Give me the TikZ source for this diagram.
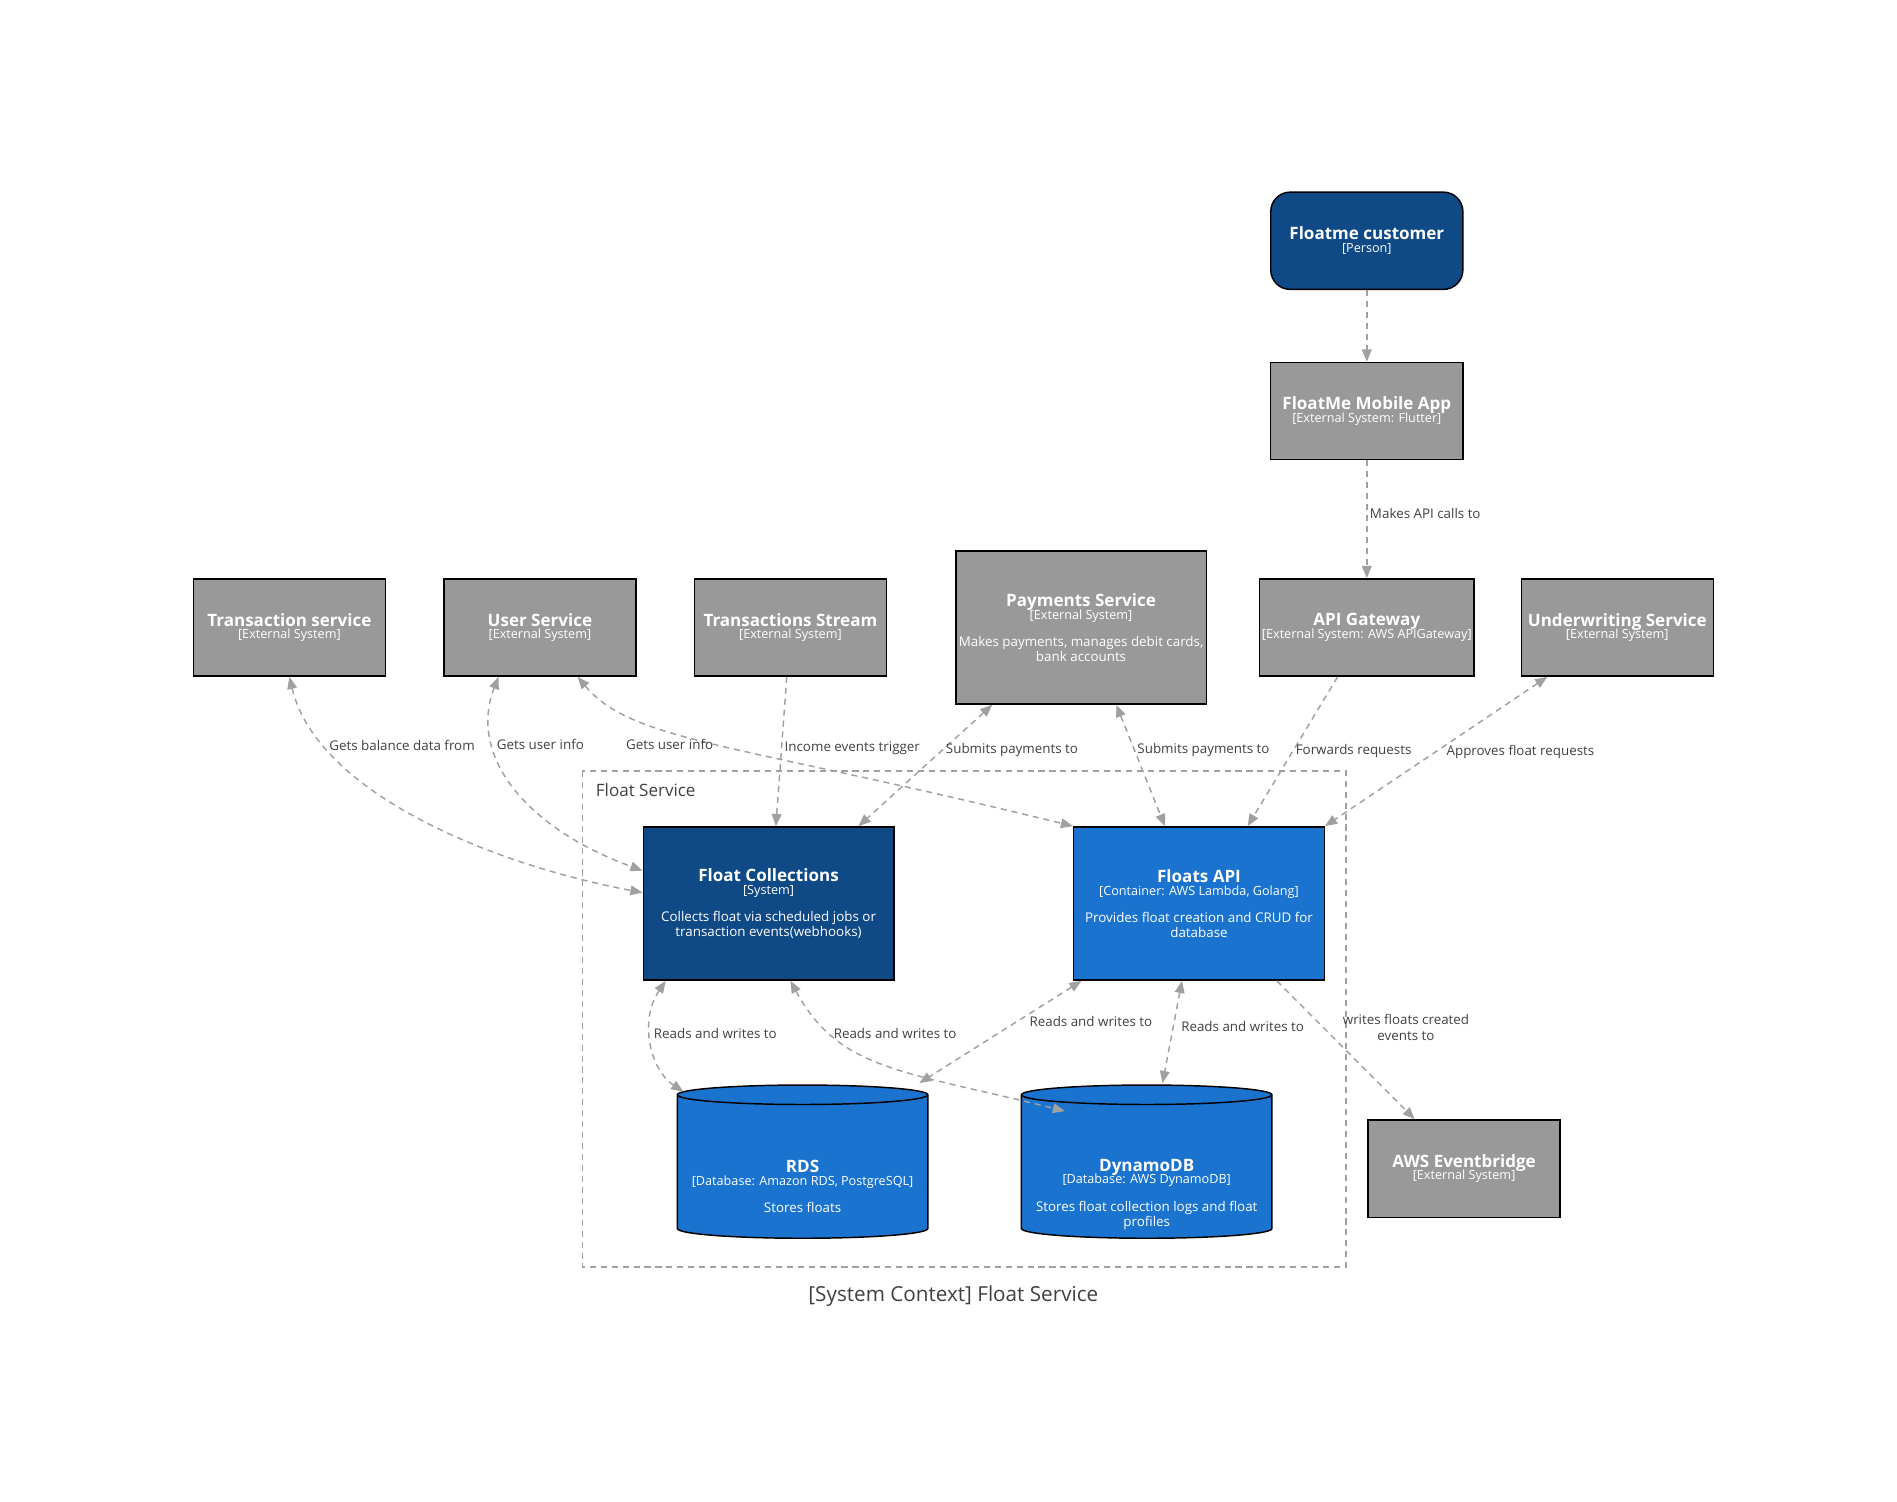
\documentclass[tikz,border=0pt]{standalone}
\usepackage{fontspec}
\setmainfont{Open Sans}
\usetikzlibrary{arrows.meta,shapes.geometric,calc}
\definecolor{personblue}{HTML}{0F4A87}
\definecolor{contblue}{HTML}{1A74CF}
\definecolor{extgrey}{HTML}{999999}
\definecolor{linegrey}{HTML}{A0A0A0}
\definecolor{labgrey}{HTML}{404040}
\newcommand{\ttl}[1]{{\fontsize{7}{8}\selectfont\bfseries #1}}
\newcommand{\stp}[1]{{\fontsize{5.2}{6}\selectfont #1}}
\tikzset{
  box/.style={draw=black,line width=0.6pt,text=white,align=center,minimum width=79pt,minimum height=40pt,inner sep=1pt,font=\fontsize{5.5}{6.2}\selectfont},
  ext/.style={box,fill=extgrey},
  wide/.style={minimum width=103pt,minimum height=63pt},
  dbnode/.style={cylinder,shape border rotate=90,aspect=1.2,draw=black,line width=0.6pt,fill=contblue,minimum width=103pt,minimum height=63pt},
  rel/.style={draw=linegrey,line width=0.6pt,dash pattern=on 2.5pt off 2pt,-{Triangle[length=5pt,width=4pt]}},
  relb/.style={rel,{Triangle[length=5pt,width=4pt]}-{Triangle[length=5pt,width=4pt]}},
  lab/.style={text=labgrey,font=\fontsize{5.5}{6.5}\selectfont,align=center,inner sep=1pt}
}
\begin{document}
\begin{tikzpicture}[x=0.5pt,y=0.5pt,yscale=-1]
\useasboundingbox (0,0) rectangle (1560,1235);

% boundary
\draw [draw=linegrey,line width=0.6pt,dash pattern=on 2.5pt off 2pt] (479,634) rectangle (1107,1042);
\node (bnd) [anchor=north west,text=labgrey,font=\fontsize{7}{8}\selectfont] at (483,637) {Float Service};

% people and external systems
\node (cust) [box,fill=personblue,rounded corners=8pt] at (1124,198) {\ttl{Floatme customer}\\[-1pt]\stp{[Person]}};
\node (app) [ext] at (1124,338) {\ttl{FloatMe Mobile App}\\[-1pt]\stp{[External System: Flutter]}};
\node (txs) [ext] at (238,516) {\ttl{Transaction service}\\[-1pt]\stp{[External System]}};
\node (usr) [ext] at (444,516) {\ttl{User Service}\\[-1pt]\stp{[External System]}};
\node (str) [ext] at (650,516) {\ttl{Transactions Stream}\\[-1pt]\stp{[External System]}};
\node (pay) [ext,wide] at (889,516) {\ttl{Payments Service}\\[-1pt]\stp{[External System]}\\[5pt]Makes payments, manages debit cards,\\bank accounts};
\node (gw) [ext] at (1124,516) {\ttl{API Gateway}\\[-1pt]\stp{[External System: AWS APIGateway]}};
\node (uw) [ext] at (1330,516) {\ttl{Underwriting Service}\\[-1pt]\stp{[External System]}};
\node (evb) [ext] at (1204,961) {\ttl{AWS Eventbridge}\\[-1pt]\stp{[External System]}};

% containers
\node (fc) [box,wide,fill=personblue] at (632,743) {\ttl{Float Collections}\\[-1pt]\stp{[System]}\\[5pt]Collects float via scheduled jobs or\\transaction events(webhooks)};
\node (api) [box,wide,fill=contblue] at (986,743) {\ttl{Floats API}\\[-1pt]\stp{[Container: AWS Lambda, Golang]}\\[5pt]Provides float creation and CRUD for\\database};
\node (rds) [dbnode] at (660,961) {};
\node (rdst) [box,draw=none,minimum width=0pt,minimum height=0pt] at (660,976) {\ttl{RDS}\\[-1pt]\stp{[Database: Amazon RDS, PostgreSQL]}\\[5pt]Stores floats};
\node (ddb) [dbnode] at (943,961) {};
\node (ddbt) [box,draw=none,minimum width=0pt,minimum height=0pt] at (943,982) {\ttl{DynamoDB}\\[-1pt]\stp{[Database: AWS DynamoDB]}\\[5pt]Stores float collection logs and float\\profiles};

% relations
\draw [rel] (cust) -- (app);
\draw [rel] (app) -- node [lab,right,pos=0.45] {Makes API calls to} (gw);
\draw [rel] ($(gw.south)+(-24,0)$) -- node [lab,right,pos=0.5] {Forwards requests} ($(api.north)+(40,0)$);
\draw [relb] ($(uw.south west)+(22,0)$) -- node [lab,right=3pt,pos=0.5] {Approves float requests} (api.north east);
\draw [relb] ($(pay.south)+(29,0)$) -- node [lab,right,pos=0.37] {Submits payments to} ($(api.north)+(-28,0)$);
\draw [relb] ($(pay.south)+(-73,0)$) -- node [lab,right,pos=0.37] {Submits payments to} ($(fc.north)+(74,0)$);
\draw [rel] ($(str.south)+(-3,0)$) -- node [lab,right,pos=0.48] {Income events trigger} ($(fc.north)+(6,0)$);
\draw [relb] ($(usr.south)+(31,0)$) .. controls (520,610) and (600,610) .. node [lab,pos=0.38,below=2pt] {Gets user info} (api.north west);
\draw [relb] ($(usr.south)+(-34,0)$) .. controls (385,620) and (430,680) .. node [lab,right,pos=0.3] {Gets user info} ($(fc.west)+(0,-27)$);
\draw [relb] (txs.south) .. controls (260,650) and (400,710) .. node [lab,right,pos=0.22] {Gets balance data from} ($(fc.west)+(0,-9)$);
\draw [relb] ($(fc.south west)+(19,0)$) .. controls (525,840) and (535,880) .. node [lab,right,pos=0.42] {Reads and writes to} ($(rds.north)+(-98,6)$);
\draw [relb] ($(fc.south)+(18,0)$) .. controls (690,880) and (740,880) .. node [lab,pos=0.25,right] {Reads and writes to} ($(ddb.north west)+(0,20)$);
\draw [relb] ($(api.south west)+(7,0)$) -- node [lab,pos=0.4,right=4pt] {Reads and writes to} ($(rds.north)+(96,-1)$);
\draw [relb] ($(api.south)+(-14,0)$) -- node [lab,pos=0.45,right=2pt] {Reads and writes to} ($(ddb.north)+(13,-1)$);
\draw [rel] ($(api.south)+(64,0)$) -- node [lab,pos=0.35,anchor=south west,xshift=6pt,yshift=-6pt] {writes floats created\\events to} ($(evb.north west)+(39,0)$);

\node (cap) [text=labgrey,font=\fontsize{8.5}{10}\selectfont] at (784,1066) {[System Context] Float Service};
\end{tikzpicture}
\end{document}
